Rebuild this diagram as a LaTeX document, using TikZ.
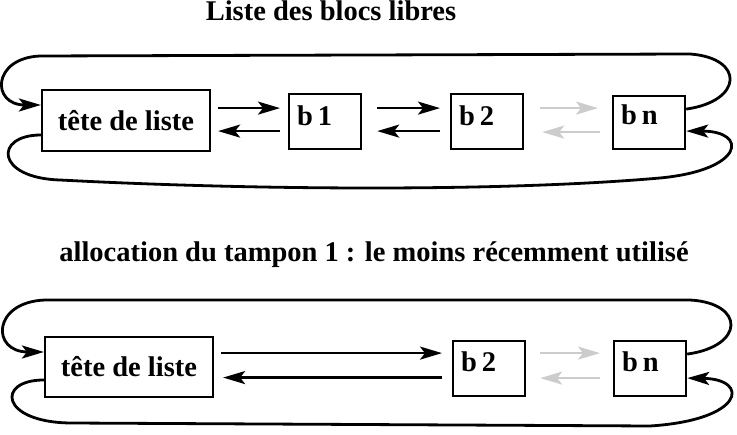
\documentclass[tikz,border=0pt]{standalone}
\usepackage{fontspec}
\setmainfont{Liberation Serif}
\usetikzlibrary{arrows.meta,calc}
\newcommand{\bsp}{\hspace{0.17em}}
\begin{document}
\begin{tikzpicture}[x=1pt,y=-1pt,
  every node/.style={font=\bfseries\fontsize{28.5}{30}\selectfont},
  titletext/.style={anchor=base, inner sep=0pt},
  head/.style={draw, line width=2.2pt, minimum width=168pt, minimum height=61pt, inner sep=0pt},
  blk/.style={draw, line width=2.2pt, inner xsep=8pt, inner ysep=0pt, text width=56pt, align=left, text height=31pt, text depth=24pt, anchor=north west},
  tipx/.style={-{Stealth[length=22pt,width=13pt,inset=5pt]}},
  link/.style={tipx, line width=2.5pt},
  faint/.style={link, draw=black!20, fill=black!20},
  loopline/.style={tipx, line width=2.8pt}
]
\useasboundingbox (0,0) rectangle (737,435);

% titles
\node[titletext] (title1) at (331,21) {Liste des blocs libres};
\node[titletext] (title2) at (374,262) {allocation du tampon 1 : le moins récemment utilisé};

% ---------- top list ----------
\node[head] (t1) at (126,120.5) {tête de liste};
\node[blk] (b11) at (288,93) {b\bsp 1};
\node[blk] (b12) at (450,93) {b\bsp 2};
\node[blk, text height=28pt, text depth=25pt] (bn1) at (612,95) {b\bsp n};

\draw[link, shorten <=7pt, shorten >=8pt] ([yshift=13.5pt]b11.west -| t1.east) -- ([yshift=13.5pt]b11.west);
\draw[link, shorten <=8pt, shorten >=7pt] ([yshift=-9.5pt]b11.west) -- ([yshift=-9.5pt]b11.west -| t1.east);
\draw[link, shorten <=15pt, shorten >=10pt] ([yshift=13.5pt]b11.east) -- ([yshift=13.5pt]b11.east -| b12.west);
\draw[link, shorten <=10pt, shorten >=15pt] ([yshift=-9.5pt]b11.east -| b12.west) -- ([yshift=-9.5pt]b11.east);
\draw[faint, shorten <=16pt, shorten >=14pt] ([yshift=13.5pt]b12.east) -- ([yshift=13.5pt]b12.east -| bn1.west);
\draw[faint, shorten <=12pt, shorten >=18pt] ([yshift=-10.5pt]b12.east -| bn1.west) -- ([yshift=-10.5pt]b12.east);

\coordinate (a1) at (690,54);
\coordinate (a2) at (40,56);
\coordinate (a3) at (60,180);
\coordinate (a4) at (660,178);
\draw[loopline] ([yshift=13.5pt]bn1.east) .. controls +(57,-8) and +(55,4) .. (a1)
  -- (a2) .. controls +(-48,2) and +(-50,0) .. ([yshift=15.5pt]t1.west);
\draw[loopline] ([yshift=-14.5pt]t1.west) .. controls +(-47,0) and +(-65,-2) .. (a3)
  .. controls (250,190) and (500,192) .. (a4)
  .. controls +(85,-8) and +(62,0) .. ([yshift=-8.5pt]bn1.east);

% ---------- bottom list ----------
\node[head, minimum height=60pt] (t2) at (129,367) {tête de liste};
\node[blk, text height=30pt, text depth=25pt] (b22) at (452,340) {b\bsp 2};
\node[blk, text height=30pt, text depth=25pt] (bn2) at (613,340) {b\bsp n};

\draw[link, shorten <=7pt, shorten >=10pt] ([yshift=15.5pt]b22.west -| t2.east) -- ([yshift=15.5pt]b22.west);
\draw[link, shorten <=10pt, shorten >=9pt] ([yshift=-9pt]b22.west) -- ([yshift=-9pt]b22.west -| t2.east);
\draw[faint, shorten <=14pt, shorten >=13pt] ([yshift=15.5pt]b22.east) -- ([yshift=15.5pt]b22.east -| bn2.west);
\draw[faint, shorten <=13pt, shorten >=14pt] ([yshift=-9.5pt]b22.east -| bn2.west) -- ([yshift=-9.5pt]b22.east);

\coordinate (c1) at (690,300);
\coordinate (c2) at (45,300);
\coordinate (c3) at (70,423);
\coordinate (c4) at (650,426);
\draw[loopline] ([yshift=14.5pt]bn2.east) .. controls +(58,-8) and +(55,3) .. (c1)
  -- (c2) .. controls +(-53,2) and +(-53,0) .. ([yshift=15pt]t2.west);
\draw[loopline] ([yshift=-13pt]t2.west) .. controls +(-48,0) and +(-70,-1) .. (c3)
  -- (c4) .. controls +(95,-6) and +(63,1) .. ([yshift=-9.5pt]bn2.east);
\end{tikzpicture}
\end{document}
